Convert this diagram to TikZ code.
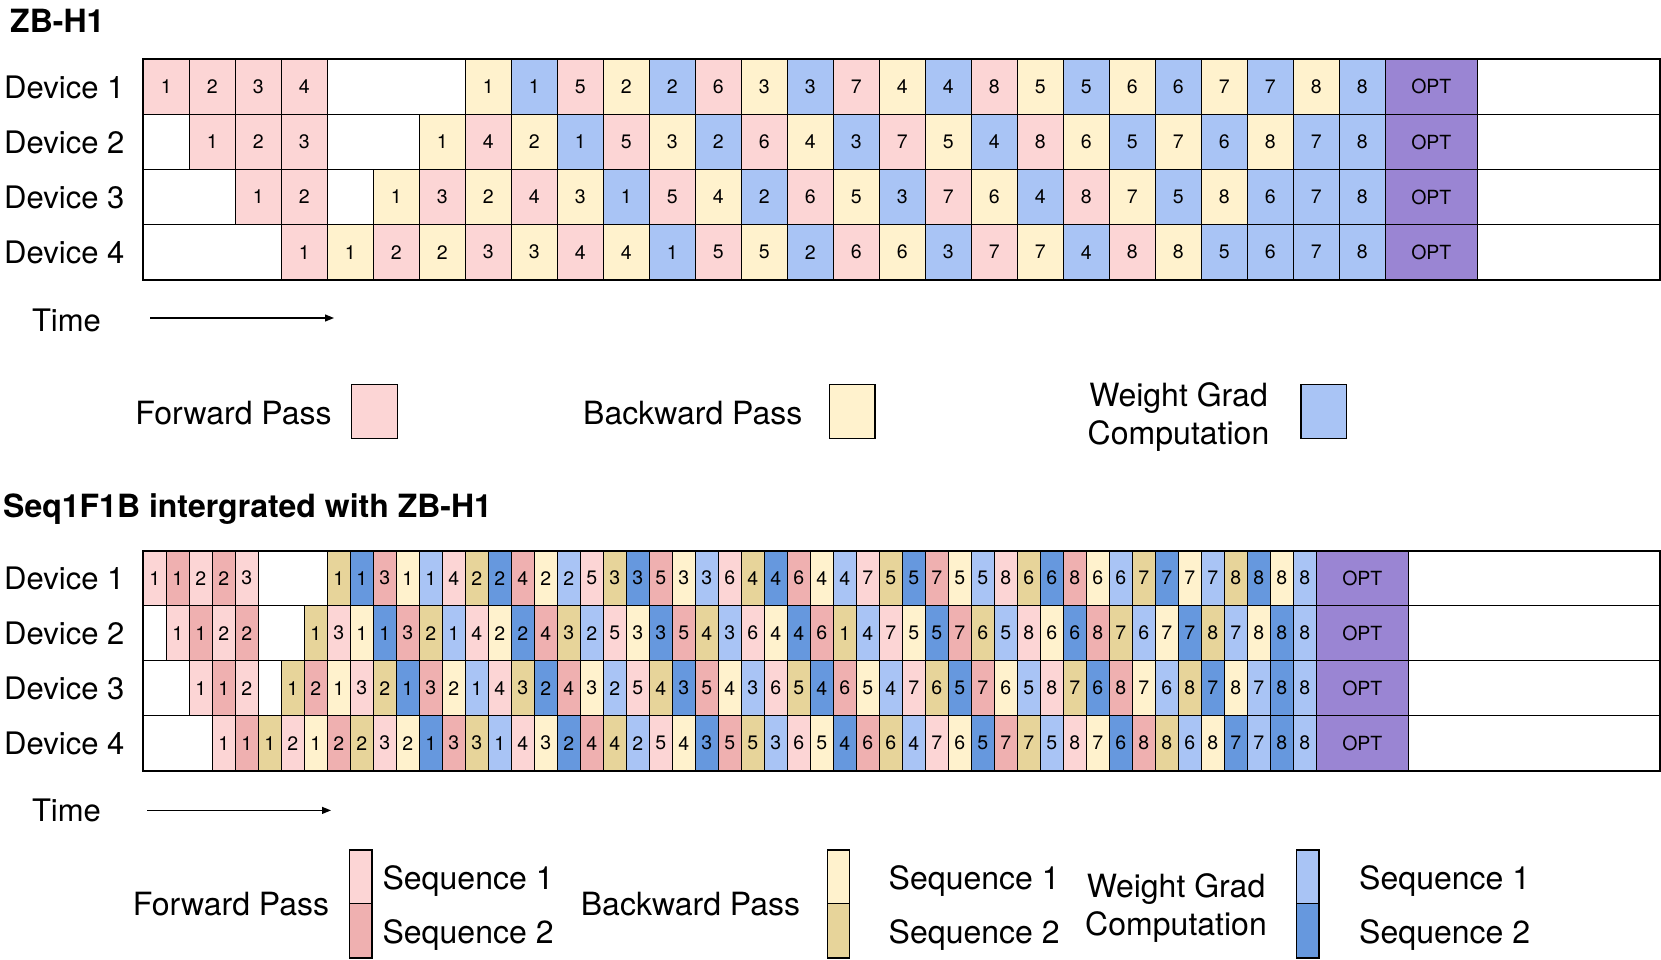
\documentclass[tikz,border=0pt]{standalone}
\usepackage{fontspec}
\setmainfont{TeX Gyre Heros}
\usetikzlibrary{arrows.meta}
\definecolor{colf}{HTML}{FCD5D5}
\definecolor{colF}{HTML}{EFB0B0}
\definecolor{colb}{HTML}{FFF2CD}
\definecolor{colB}{HTML}{E7D49A}
\definecolor{colw}{HTML}{A9C4F5}
\definecolor{colW}{HTML}{6698DE}
\definecolor{colopt}{HTML}{9A85D3}
\newcommand\ZBrow[2]{%
  \foreach \s/\n [count=\i from 0] in {#2} {%
    \ifnum\strcmp{\s}{x}=0 \else
      \node[tcell, fill=col\s] (t#1-\i) at ({143.3+46*\i},{59.3+55.1*(#1-1)}) {\n};
    \fi
  }%
  \node[tcell, fill=colopt, minimum width=92pt] (t#1-opt) at ({143.3+46*27},{59.3+55.1*(#1-1)}) {OPT};
}
\newcommand\SQrow[2]{%
  \foreach \s/\n [count=\i from 0] in {#2} {%
    \ifnum\strcmp{\s}{x}=0 \else
      \node[bcell, fill=col\s] (b#1-\i) at ({143.3+23*\i},{550.7+55*(#1-1)}) {\n};
    \fi
  }%
  \node[bcell, fill=colopt, minimum width=92pt] (b#1-opt) at ({143.3+23*51},{550.7+55*(#1-1)}) {OPT};
}
\begin{document}
\begin{tikzpicture}[x=1pt,y=-1pt,
  cellbase/.style={draw=black, line width=1.2pt, inner sep=0pt, outer sep=0pt, anchor=north west},
  tcell/.style={cellbase, minimum width=46pt, minimum height=55.1pt, font=\fontsize{19.5}{23}\selectfont},
  bcell/.style={cellbase, minimum width=23pt, minimum height=55pt, font=\fontsize{19.5}{23}\selectfont},
  rowbg/.style={draw=black, line width=1.2pt, fill=white, inner sep=0pt, outer sep=0pt, anchor=north west, minimum width=1516.2pt},
  lbl/.style={anchor=base west, inner sep=0pt, font=\fontsize{31}{37}\selectfont},
  leg/.style={anchor=base, inner sep=0pt, font=\fontsize{32}{38}\selectfont},
  ttl/.style={anchor=base west, inner sep=0pt, font=\fontsize{32}{38}\selectfont\bfseries},
  legbox/.style={draw=black, line width=1.4pt, inner sep=0pt, outer sep=0pt, anchor=north west},
  frame/.style={draw=black, line width=2pt},
  timearrow/.style={line width=1.2pt, -{Triangle[length=9pt,width=7pt]}},
]
\useasboundingbox (0,0) rectangle (1661,960);

% ---------- titles ----------
\node[ttl] (title1) at (10,33) {ZB-H1};
\node[ttl] (title2) at (3,517) {Seq1F1B intergrated with ZB-H1};

% ---------- ZB-H1 grid ----------
\foreach \r in {1,...,4} {
  \node[rowbg, minimum height=55.1pt] (tbg\r) at (143.3,{59.3+55.1*(\r-1)}) {};
  \node[lbl] (dt\r) at (4,{59.3+55.1*(\r-0.5)+11.2}) {Device \r};
}
\ZBrow{1}{f/1,f/2,f/3,f/4,x/0,x/0,x/0,b/1,w/1,f/5,b/2,w/2,f/6,b/3,w/3,f/7,b/4,w/4,f/8,b/5,w/5,b/6,w/6,b/7,w/7,b/8,w/8}
\ZBrow{2}{x/0,f/1,f/2,f/3,x/0,x/0,b/1,f/4,b/2,w/1,f/5,b/3,w/2,f/6,b/4,w/3,f/7,b/5,w/4,f/8,b/6,w/5,b/7,w/6,b/8,w/7,w/8}
\ZBrow{3}{x/0,x/0,f/1,f/2,x/0,b/1,f/3,b/2,f/4,b/3,w/1,f/5,b/4,w/2,f/6,b/5,w/3,f/7,b/6,w/4,f/8,b/7,w/5,b/8,w/6,w/7,w/8}
\ZBrow{4}{x/0,x/0,x/0,f/1,b/1,f/2,b/2,f/3,b/3,f/4,b/4,w/1,f/5,b/5,w/2,f/6,b/6,w/3,f/7,b/7,w/4,f/8,b/8,w/5,w/6,w/7,w/8}
\draw[frame] (143.3,59.3) rectangle (1659.5,279.7);

% time arrow (top)
\node[lbl] (timeT) at (31.8,331) {Time};
\coordinate (ta0) at (150.4,318);
\coordinate (ta1) at (334,318);
\draw[timearrow] (ta0) -- (ta1);

% legend (top)
\node[leg] (lf) at (233.5,424.5) {Forward Pass};
\node[legbox, fill=colf, minimum width=45.5pt, minimum height=54pt] (lfbox) at (351.7,384.5) {};
\node[leg] (lb) at (692.8,424.5) {Backward Pass};
\node[legbox, fill=colb, minimum width=45.5pt, minimum height=54pt] (lbbox) at (829.4,384.5) {};
\node[leg] (lw1) at (1178.5,406.5) {Weight Grad};
\node[leg] (lw2) at (1178.5,444.8) {Computation};
\node[legbox, fill=colw, minimum width=45.5pt, minimum height=54pt] (lwbox) at (1300.8,384.5) {};

% ---------- Seq1F1B grid ----------
\foreach \r in {1,...,4} {
  \node[rowbg, minimum height=55pt] (bbg\r) at (143.3,{550.7+55*(\r-1)}) {};
  \node[lbl] (db\r) at (4,{550.7+55*(\r-0.5)+11.2}) {Device \r};
}
\SQrow{1}{f/1,F/1,f/2,F/2,f/3,x/0,x/0,x/0,B/1,W/1,F/3,b/1,w/1,f/4,B/2,W/2,F/4,b/2,w/2,f/5,B/3,W/3,F/5,b/3,w/3,f/6,B/4,W/4,F/6,b/4,w/4,f/7,B/5,W/5,F/7,b/5,w/5,f/8,B/6,W/6,F/8,b/6,w/6,B/7,W/7,b/7,w/7,B/8,W/8,b/8,w/8}
\SQrow{2}{x/0,f/1,F/1,f/2,F/2,x/0,x/0,B/1,f/3,b/1,W/1,F/3,B/2,w/1,f/4,b/2,W/2,F/4,B/3,w/2,f/5,b/3,W/3,F/5,B/4,w/3,f/6,b/4,W/4,F/6,B/1,w/4,f/7,b/5,W/5,F/7,B/6,w/5,f/8,b/6,W/6,F/8,B/7,w/6,b/7,W/7,B/8,w/7,b/8,W/8,w/8}
\SQrow{3}{x/0,x/0,f/1,F/1,f/2,x/0,B/1,F/2,b/1,f/3,B/2,W/1,F/3,b/2,w/1,f/4,B/3,W/2,F/4,b/3,w/2,f/5,B/4,W/3,F/5,b/4,w/3,f/6,B/5,W/4,F/6,b/5,w/4,f/7,B/6,W/5,F/7,b/6,w/5,f/8,B/7,W/6,F/8,b/7,w/6,B/8,W/7,b/8,w/7,W/8,w/8}
\SQrow{4}{x/0,x/0,x/0,f/1,F/1,B/1,f/2,b/1,F/2,B/2,f/3,b/2,W/1,F/3,B/3,w/1,f/4,b/3,W/2,F/4,B/4,w/2,f/5,b/4,W/3,F/5,B/5,w/3,f/6,b/5,W/4,F/6,B/6,w/4,f/7,b/6,W/5,F/7,B/7,w/5,f/8,b/7,W/6,F/8,B/8,w/6,b/8,W/7,w/7,W/8,w/8}
\draw[frame] (143.3,550.7) rectangle (1659.5,770.7);

% time arrow (bottom)
\node[lbl] (timeB) at (31.8,821) {Time};
\coordinate (tb0) at (147.2,810.4);
\coordinate (tb1) at (331,810.4);
\draw[timearrow] (tb0) -- (tb1);

% legend (bottom)
\node[leg] (bf) at (231,915) {Forward Pass};
\node[legbox, fill=colf, minimum width=22.3pt, minimum height=53.6pt] (bfbox1) at (349.6,850) {};
\node[legbox, fill=colF, minimum width=22.3pt, minimum height=54.4pt] (bfbox2) at (349.6,903.6) {};
\node[leg, anchor=base west] (bfs1) at (382.4,889.5) {Sequence 1};
\node[leg, anchor=base west] (bfs2) at (382.4,943.5) {Sequence 2};

\node[leg] (bb) at (690.5,915) {Backward Pass};
\node[legbox, fill=colb, minimum width=22.3pt, minimum height=53.6pt] (bbbox1) at (827.3,850) {};
\node[legbox, fill=colB, minimum width=22.3pt, minimum height=54.4pt] (bbbox2) at (827.3,903.6) {};
\node[leg, anchor=base west] (bbs1) at (888.5,889.5) {Sequence 1};
\node[leg, anchor=base west] (bbs2) at (888.5,943.5) {Sequence 2};

\node[leg] (bw1) at (1176,897) {Weight Grad};
\node[leg] (bw2) at (1176,935) {Computation};
\node[legbox, fill=colw, minimum width=22.3pt, minimum height=53.6pt] (bwbox1) at (1296.6,850) {};
\node[legbox, fill=colW, minimum width=22.3pt, minimum height=54.4pt] (bwbox2) at (1296.6,903.6) {};
\node[leg, anchor=base west] (bws1) at (1359,889.5) {Sequence 1};
\node[leg, anchor=base west] (bws2) at (1359,943.5) {Sequence 2};
\end{tikzpicture}
\end{document}
